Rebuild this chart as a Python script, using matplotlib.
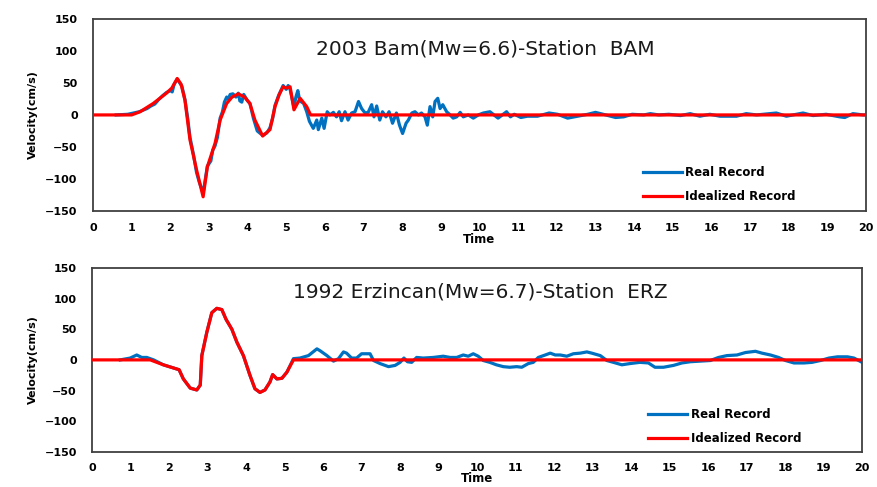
import matplotlib.pyplot as plt

# 2003 Bam - Station BAM
bam_real_t = [0.6, 0.9, 1.2, 1.4, 1.5, 1.6, 1.7, 1.8, 1.9, 2.0,
              2.05, 2.1, 2.18, 2.3, 2.38, 2.45, 2.51, 2.6, 2.68, 2.75,
              2.85, 2.92, 2.96, 3.05, 3.1, 3.16, 3.22, 3.29, 3.35, 3.4,
              3.46, 3.5, 3.55, 3.62, 3.7, 3.76, 3.8, 3.85, 3.9, 4.0,
              4.06, 4.15, 4.25, 4.39, 4.5, 4.58, 4.65, 4.71, 4.8, 4.92,
              5.0, 5.05, 5.1, 5.2, 5.25, 5.3, 5.35, 5.45, 5.53, 5.6,
              5.70, 5.79, 5.83, 5.92, 5.98, 6.06, 6.13, 6.22, 6.3, 6.37,
              6.43, 6.52, 6.6, 6.69, 6.78, 6.87, 6.95, 7.04, 7.12, 7.21,
              7.27, 7.34, 7.42, 7.49, 7.58, 7.66, 7.75, 7.85, 7.93, 8.01,
              8.1, 8.16, 8.25, 8.33, 8.42, 8.5, 8.59, 8.65, 8.72, 8.79,
              8.85, 8.92, 8.98, 9.05, 9.15, 9.24, 9.32, 9.41, 9.5, 9.58,
              9.71, 9.84, 9.97, 10.1, 10.27, 10.48, 10.7, 10.8, 10.9, 11.07,
              11.24, 11.5, 11.8, 12.02, 12.28, 12.54, 12.8, 13.0, 13.2, 13.52,
              13.73, 13.95, 14.25, 14.42, 14.64, 14.9, 15.2, 15.45, 15.7, 15.96,
              16.22, 16.65, 16.9, 17.17, 17.5, 17.68, 17.94, 18.37, 18.63, 18.97,
              19.32, 19.45, 19.66, 19.92, 20.0]
bam_real_v = [0, 1, 5, 10, 14, 17, 24, 30, 35, 38,
              36, 48, 56, 45, 24, -5, -35, -62, -90, -105,
              -122, -95, -80, -72, -55, -48, -35, -5, 5, 20,
              28, 25, 32, 33, 28, 34, 22, 20, 32, 22,
              18, -5, -25, -32, -28, -20, -5, 15, 30, 46,
              40, 46, 40, 12, 28, 38, 22, 18, 5, -10,
              -21, -8, -23, -5, -21, 5, 0, 4, -3, 5,
              -9, 5, -8, 3, 5, 21, 10, 3, 4, 16,
              -3, 14, -8, 5, -3, 5, -13, 3, -16, -29,
              -13, -8, 3, 5, 0, 3, -3, -16, 13, -3,
              21, 26, 10, 16, 5, 0, -5, -3, 4, -3,
              0, -5, 0, 3, 5, -5, 5, -3, 1, -4,
              -2, -2, 3, 1, -5, -2, 1, 4, 1, -4,
              -3, 1, 0, 2, 0, 1, -1, 2, -2, 1,
              -2, -2, 2, 0, 2, 3, -2, 3, -1, 1,
              -3, -4, 2, 0, 0]
bam_ideal_t = [0, 1.0, 1.22, 1.56, 1.9, 2.04, 2.18, 2.28, 2.38, 2.51,
               2.68, 2.85, 2.96, 3.16, 3.29, 3.46, 3.6, 3.76, 3.92, 4.06,
               4.19, 4.39, 4.58, 4.71, 4.82, 4.92, 5.0, 5.1, 5.2, 5.36,
               5.53, 5.63, 20]
bam_ideal_v = [0, 0, 5, 18, 34, 42, 57, 48, 23, -39,
               -86, -128, -81, -44, -8, 18, 28, 33, 28, 18,
               -8, -33, -23, 13, 32, 44, 42, 44, 8, 26,
               13, 0, 0]

# 1992 Erzincan - Station ERZ
erz_real_t = [0.73, 0.99, 1.16, 1.29, 1.42, 1.6,
              1.85, 2.26, 2.37, 2.55, 2.72, 2.81, 2.85, 2.98, 3.11, 3.24,
              3.37, 3.48, 3.63, 3.76, 3.93, 4.1, 4.23, 4.36, 4.49, 4.62,
              4.69, 4.80, 4.93, 5.06, 5.23,
              5.4, 5.62, 5.84, 5.92, 6.1, 6.27, 6.4, 6.53, 6.61, 6.74,
              6.87, 7.0, 7.22, 7.31, 7.48, 7.70, 7.87, 8.0, 8.1, 8.19,
              8.3, 8.43, 8.6, 8.86, 9.12, 9.3, 9.47, 9.64, 9.77, 9.9,
              10.03, 10.16, 10.33, 10.5, 10.68, 10.85, 11.03, 11.16, 11.33, 11.46,
              11.59, 11.77, 11.9, 12.03, 12.16, 12.33, 12.5, 12.68, 12.85, 12.98,
              13.2, 13.37, 13.54, 13.76, 13.97, 14.23, 14.45, 14.62, 14.84, 15.1,
              15.32, 15.54, 15.8, 16.06, 16.27, 16.49, 16.75, 16.97, 17.23, 17.4,
              17.62, 17.83, 18.01, 18.23, 18.49, 18.7, 18.92, 19.14, 19.36, 19.62,
              19.79, 19.97, 20.0]
erz_real_v = [0, 3, 8, 4, 4, 0,
              -8, -16, -31, -46, -49, -41, 7, 45, 77, 84,
              82, 66, 50, 29, 7, -25, -47, -53, -49, -36,
              -24, -31, -30, -20, 2,
              3, 7, 18, 15, 7, -2, 2, 13, 11, 3,
              3, 10, 10, -1, -6, -11, -9, -4, 3, -3,
              -4, 4, 3, 4, 6, 4, 4, 8, 6, 10,
              6, -1, -4, -8, -11, -12, -11, -12, -6, -4,
              4, 8, 11, 8, 8, 6, 10, 11, 13, 11,
              7, -1, -4, -8, -6, -4, -5, -12, -12, -9,
              -5, -3, -2, -1, 4, 7, 8, 12, 14, 11,
              8, 4, -1, -5, -5, -4, -1, 3, 5, 5,
              3, -3, -4]
erz_ideal_t = [0, 1.51, 1.85, 2.26, 2.37, 2.55, 2.72, 2.81, 2.85, 2.98,
               3.11, 3.24, 3.37, 3.48, 3.63, 3.76, 3.93, 4.1, 4.23, 4.36,
               4.49, 4.62, 4.69, 4.80, 4.93, 5.06, 5.23, 20]
erz_ideal_v = [0, 0, -8, -16, -31, -46, -49, -41, 7, 45,
               77, 84, 82, 66, 50, 29, 7, -25, -47, -53,
               -49, -36, -24, -31, -30, -20, 0, 0]

BLUE = '#0070C0'
RED = '#FF0000'
SPINE = '#404040'


def draw_panel(fig, rect, real_t, real_v, ideal_t, ideal_v, title, title_xy, legend_xy,
               xpad=9, time_pad=0):
    ax = fig.add_axes(rect)
    ax.plot(real_t, real_v, color=BLUE, lw=2.3, label='Real Record', zorder=2)
    ax.plot(ideal_t, ideal_v, color=RED, lw=2.3, label='Idealized Record', zorder=3)
    ax.set_xlim(0, 20)
    ax.set_ylim(-150, 150)
    ax.set_xticks(range(0, 21))
    ax.set_yticks(range(-150, 151, 50))
    ax.tick_params(length=0, labelsize=8, colors='#000000')
    ax.tick_params(axis='x', pad=xpad)
    ax.tick_params(axis='y', pad=11)
    for lab in ax.get_xticklabels() + ax.get_yticklabels():
        lab.set_fontweight('bold')
    for sp in ax.spines.values():
        sp.set_color(SPINE)
        sp.set_linewidth(1.3)
    ax.set_xlabel('Time', fontsize=8.5, fontweight='bold', labelpad=time_pad)
    ax.set_ylabel('Velocity(cm/s)', fontsize=8, fontweight='bold', labelpad=5)
    ax.text(title_xy[0], title_xy[1], title, transform=ax.transAxes,
            ha='center', va='center', fontsize=14.5, color='#1a1a1a')
    ax.legend(loc='upper left', bbox_to_anchor=legend_xy, frameon=False,
              prop={'weight': 'bold', 'size': 8.5},
              handlelength=3.3, handletextpad=0.3, labelspacing=0.95,
              borderpad=0, borderaxespad=0)
    return ax


fig = plt.figure(figsize=(8.77, 4.87), dpi=100)
draw_panel(fig, [0.106, 0.567, 0.8815, 0.394],
           bam_real_t, bam_real_v, bam_ideal_t, bam_ideal_v,
           '2003 Bam(Mw=6.6)-Station  BAM', (0.507, 0.844), (0.711, 0.235))
draw_panel(fig, [0.105, 0.072, 0.878, 0.378],
           erz_real_t, erz_real_v, erz_ideal_t, erz_ideal_v,
           '1992 Erzincan(Mw=6.7)-Station  ERZ', (0.504, 0.871), (0.722, 0.24),
           xpad=8, time_pad=-1)
fig.savefig('out.png', dpi=100)
